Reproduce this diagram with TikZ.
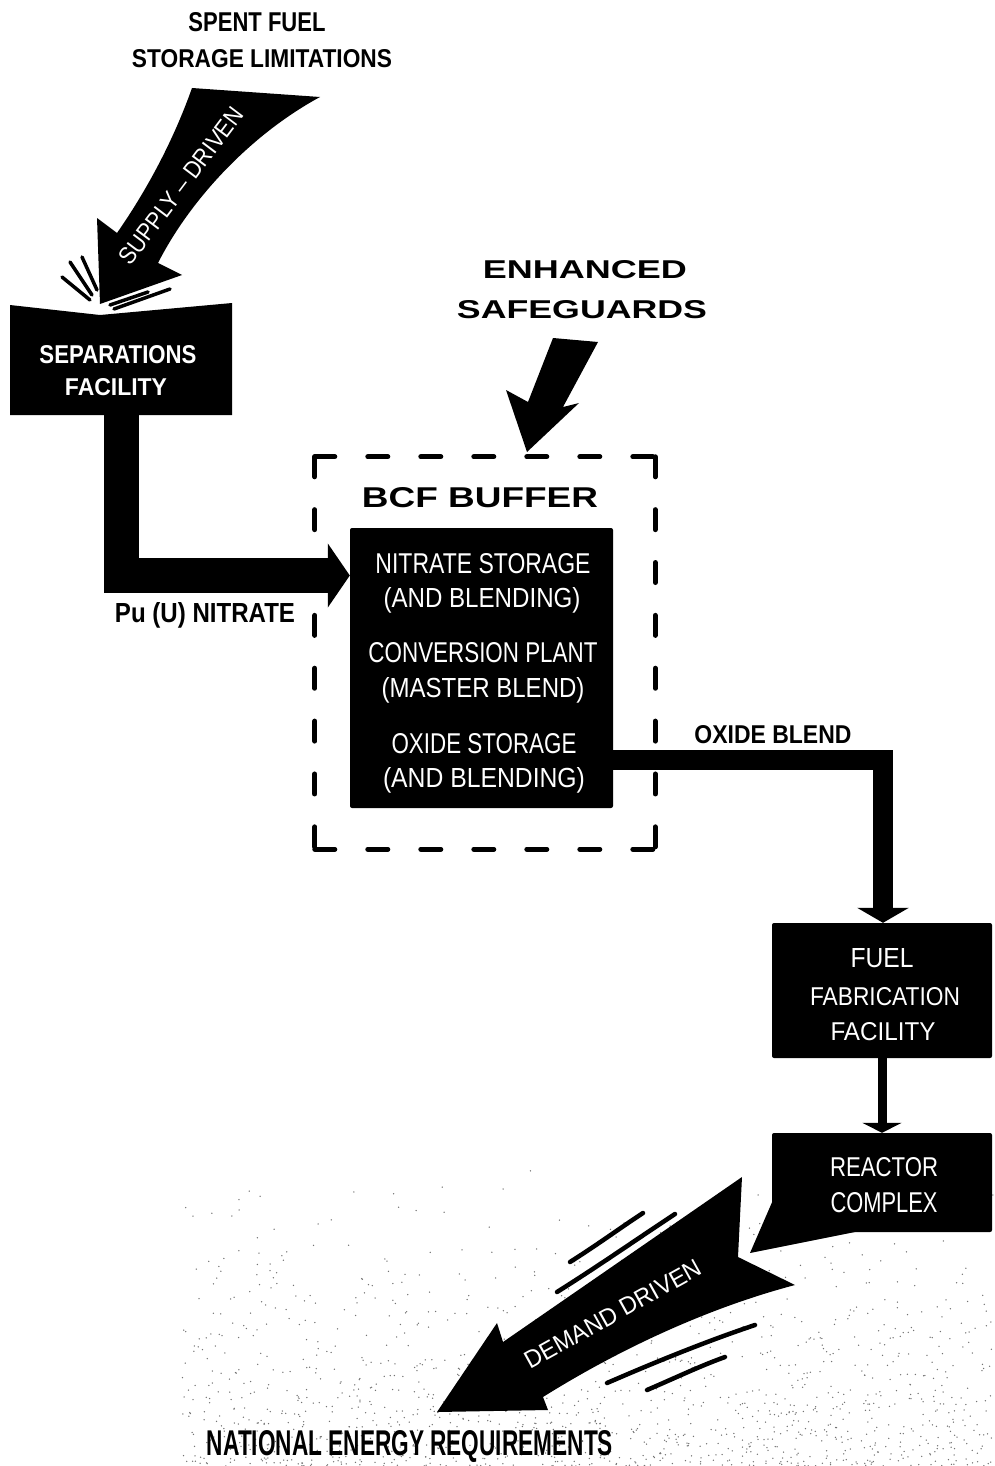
\documentclass[tikz,border=0pt]{standalone}
\usepackage{fontspec}
\setmainfont{Liberation Sans}
\usepackage{graphicx}
\usetikzlibrary{arrows.meta}
% set a label to an exact width and cap height
\newcommand{\fitw}[3]{\resizebox{#1pt}{#2pt}{#3}}

\begin{document}
\begin{tikzpicture}[x=1pt,y=-1pt,
  lbl/.style={inner sep=0pt, anchor=base},
  wlbl/.style={lbl, text=white},
  rlbl/.style={inner sep=0pt, text=white},
  blk/.style={fill=black, draw=none, rounded corners=2pt, inner sep=0pt},
  ghost/.style={draw=none, inner sep=0pt},
  pipe/.style={line width=#1, line join=miter},
  dashside/.style={line width=5pt, line cap=round},
  blob/.style={fill=black},
  streak/.style={line width=4.5pt, line cap=round},
]
\useasboundingbox (0,0) rectangle (994,1466);

% ---- grain in the lower part of the sheet
\pgfmathsetseed{4711}
\foreach \i in {1,...,1400}{
  \pgfmathsetmacro\px{180+814*rnd}
  \pgfmathsetmacro\py{1466-300*rnd*rnd}
  \fill[black!55] (\px,\py) circle[radius=0.75pt];
}

% ---- headings
\node[lbl] (spent1) at (257,31.5) {\bfseries\fitw{137}{19}{SPENT FUEL}};
\node[lbl] (spent2) at (262,68) {\bfseries\fitw{260}{18}{STORAGE LIMITATIONS}};
\node[lbl] (enh1) at (585,278) {\bfseries\fitw{204}{18}{ENHANCED}};
\node[lbl] (enh2) at (582,318) {\bfseries\fitw{250}{18}{SAFEGUARDS}};
\node[lbl] (ner) at (410,1455) {\bfseries\fitw{406}{25}{NATIONAL ENERGY REQUIREMENTS}};

% ---- supply-driven arrow
\fill[blob] (192,88) .. controls (170,150) and (140,200) .. (117,233)
  -- (97,218) -- (100,304) -- (182,275) -- (158,263)
  .. controls (190,200) and (250,135) .. (320,97) -- cycle;
\node[rlbl, rotate=53] (supT) at (181,186) {\fitw{190}{17}{SUPPLY – DRIVEN}};
% impact strokes
\draw[streak, line width=3.5pt] (62,277) -- (90,300);
\draw[streak, line width=3.5pt] (70,262) -- (92,295);
\draw[streak, line width=3.5pt] (82,257) -- (97,290);
\draw[streak, line width=3.5pt] (110,305) -- (148,292);
\draw[streak, line width=3.5pt] (114,309) -- (170,289);

% ---- separations facility
\fill[blob] (10,305) -- (100,315) -- (232,303) -- (232,415) -- (10,415) -- cycle;
\node[ghost, minimum width=222pt, minimum height=110pt] (sep) at (121,360) {};
\node[wlbl] (sepT1) at (118,363) {\bfseries\fitw{157}{18}{SEPARATIONS}};
\node[wlbl] (sepT2) at (116,395.5) {\bfseries\fitw{102}{17}{FACILITY}};

% ---- safeguards arrow
\fill[blob] (553,338) -- (598,342) -- (563,407) -- (579,403) -- (527,452)
  -- (506,390) -- (528,402) -- cycle;

% ---- BCF buffer
\node[ghost, minimum width=340pt, minimum height=392pt] (bcf) at (485,653) {};
\draw[dashside, dash pattern=on 20pt off 33pt] (bcf.north west) -- (bcf.north east);
\draw[dashside, dash pattern=on 20pt off 33pt] (bcf.south west) -- (bcf.south east);
\draw[dashside, dash pattern=on 20pt off 32.86pt] (bcf.north west) -- (bcf.south west);
\draw[dashside, dash pattern=on 20pt off 32.86pt] (bcf.north east) -- (bcf.south east);
\node[lbl] (bcfT) at (480,507) {\bfseries\fitw{236}{20}{BCF BUFFER}};

\node[blk, minimum width=263pt, minimum height=280pt] (inner) at (481.5,668) {};
\node[wlbl] (in1) at (483,573) {\fitw{215}{20}{NITRATE STORAGE}};
\node[wlbl] (in2) at (482,607) {\fitw{197}{20}{(AND BLENDING)}};
\node[wlbl] (in3) at (483,662) {\fitw{229}{20}{CONVERSION PLANT}};
\node[wlbl] (in4) at (483,697) {\fitw{203}{20}{(MASTER BLEND)}};
\node[wlbl] (in5) at (484,753) {\fitw{185}{20}{OXIDE STORAGE}};
\node[wlbl] (in6) at (484,787) {\fitw{202}{20}{(AND BLENDING)}};

% ---- fuel fabrication and reactor
\node[blk, minimum width=220pt, minimum height=135pt] (fab) at (882,990.5) {};
\node[wlbl] (fab1) at (882,967) {\fitw{63}{19}{FUEL}};
\node[wlbl] (fab2) at (885,1005) {\fitw{150}{18}{FABRICATION}};
\node[wlbl] (fab3) at (883,1040) {\fitw{105}{18}{FACILITY}};

\fill[blob] (773,1200) -- (750,1253) -- (860,1231) -- (860,1200) -- cycle;
\node[blk, minimum width=220pt, minimum height=99pt] (reactor) at (882,1182.5) {};
\node[wlbl] (re1) at (884,1176) {\fitw{108}{19}{REACTOR}};
\node[wlbl] (re2) at (884,1212) {\fitw{107}{20}{COMPLEX}};

% ---- flow connectors
\draw[pipe=35pt, -{Triangle[width=63pt,length=22pt]}]
  (sep.south) |- ([yshift=92.5pt]inner.west);
\node[lbl] (puT) at (205,622) {\bfseries\fitw{180}{20}{Pu (U) NITRATE}};

\draw[pipe=20pt, -{Triangle[width=51pt,length=15pt]}]
  ([yshift=-92pt]inner.east) -| ([xshift=1pt]fab.north);
\node[lbl] (oxT) at (773,743) {\bfseries\fitw{157}{18}{OXIDE BLEND}};

\draw[pipe=9pt, -{Triangle[width=39pt,length=10pt]}] (fab.south) -- (reactor.north);

% ---- demand-driven arrow
\fill[blob] (742,1177) -- (503,1342) -- (497,1323) -- (437,1412) -- (548,1410)
  -- (543,1397) .. controls (610,1355) and (700,1310) .. (795,1285)
  -- (738,1257) -- cycle;
\node[rlbl, rotate=29] (demT) at (613,1314) {\fitw{198}{17}{DEMAND DRIVEN}};
\draw[streak] (570,1262) .. controls (600,1243) and (620,1228) .. (643,1213);
\draw[streak] (557,1292) .. controls (600,1265) and (640,1237) .. (675,1214);
\draw[streak] (607,1383) .. controls (660,1360) and (710,1340) .. (755,1325);
\draw[streak] (647,1390) .. controls (675,1378) and (700,1366) .. (725,1357);
\end{tikzpicture}
\end{document}
